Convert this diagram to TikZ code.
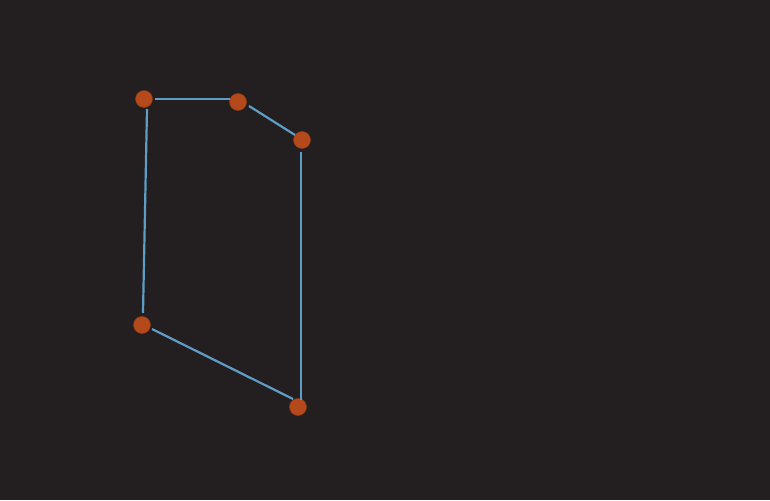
\documentclass[tikz,border=0pt]{standalone}
\usetikzlibrary{calc}
\definecolor{bgdark}{HTML}{231F20}
\definecolor{dotorange}{HTML}{B4491B}
\definecolor{edgeblue}{HTML}{5E9DC6}
\tikzset{
    vertex/.style={circle, fill=dotorange, draw=dotorange!80!black, line width=0.3pt, inner sep=0pt, minimum size=0.34cm},
    edge/.style={edgeblue, line width=1.25pt}
}
\begin{document}
\begin{tikzpicture}[x=0.02cm, y=-0.02cm]
        \fill[bgdark] (0,0) rectangle (770,500);
        \useasboundingbox (0,0) rectangle (770,500);
        \node[vertex] (a) at (144,99) {};
        \node[vertex] (b) at (238,102) {};
        \node[vertex] (c) at (302,140) {};
        \node[vertex] (d) at (298,407) {};
        \node[vertex] (e) at (142,325) {};
        % lines sit a little off the dot centres
        \draw[edge] ($(a)+(11,0)$) -- ($(b)+(-8,-3)$);
        \draw[edge] ($(b)+(11,4)$) -- ($(c)+(-7,-5)$);
        \draw[edge] ($(c)+(-1,12)$) -- ($(d)+(3,-7)$);
        \draw[edge] ($(d)+(-5,-8)$) -- ($(e)+(10,4)$);
        \draw[edge] ($(e)+(1,-12)$) -- ($(a)+(3,10)$);
    \end{tikzpicture}
\end{document}
